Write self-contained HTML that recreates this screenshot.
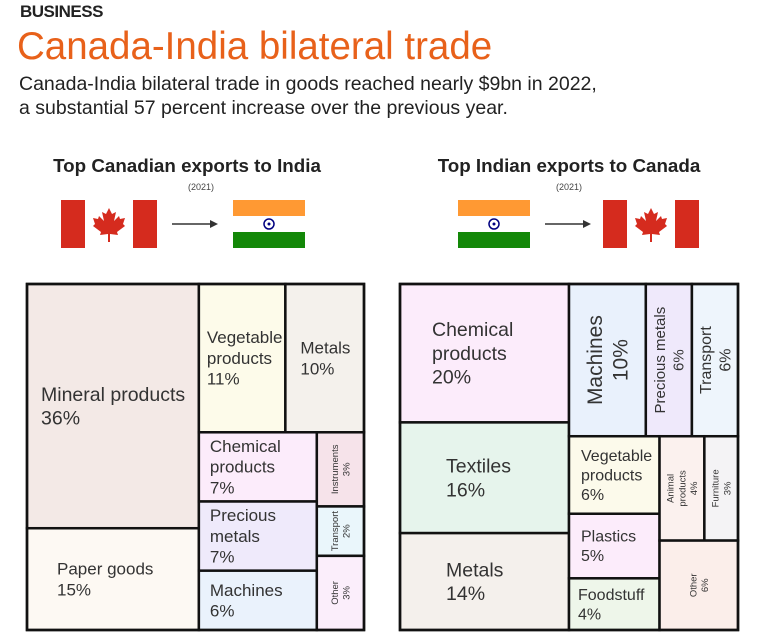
<!DOCTYPE html>
<html><head><meta charset="utf-8"><style>
body{margin:0;background:#fff;width:770px;height:634px;overflow:hidden;font-family:"Liberation Sans",sans-serif}
</style></head><body>
<svg width="770" height="634" viewBox="0 0 770 634" xmlns="http://www.w3.org/2000/svg" style="font-family:'Liberation Sans',sans-serif">
<text x="20" y="17" font-size="17" font-weight="bold" fill="#222" letter-spacing="-0.5">BUSINESS</text>
<text x="17" y="59" font-size="38.5" fill="#e8611a">Canada-India bilateral trade</text>
<text x="19" y="90" font-size="19.5" fill="#222">Canada-India bilateral trade in goods reached nearly $9bn in 2022,</text>
<text x="19" y="114" font-size="19.5" fill="#222">a substantial 57 percent increase over the previous year.</text>

<text x="187" y="172" font-size="18.8" font-weight="bold" fill="#222" text-anchor="middle">Top Canadian exports to India</text>
<text x="201" y="190" font-size="9" fill="#444" text-anchor="middle">(2021)</text>
<text x="569" y="172" font-size="18.8" font-weight="bold" fill="#222" text-anchor="middle">Top Indian exports to Canada</text>
<text x="569" y="190" font-size="9" fill="#444" text-anchor="middle">(2021)</text>

<g id="flags"></g>
<g id="tmL"></g>
<g id="tmR"></g>
</svg>
<script>
const leftNames = ["Mineral products","Paper goods","Vegetable|products","Metals","Chemical|products","Precious|metals","Machines","Instruments","Transport","Other"];
const leftValues = [36,15,11,10,7,7,6,3,2,3];
const rightNames = ["Chemical|products","Textiles","Metals","Machines","Precious metals","Transport","Vegetable|products","Plastics","Foodstuff","Animal|products","Furniture","Other"];
const rightValues = [20,16,14,10,6,6,6,5,4,4,3,6];

const leftLayout = ['h',['v',0,1],['v',['h',2,3],['h',['v',4,5,6],['v',7,8,9]]]];
const rightLayout = ['h',['v',0,1,2],['v',['h',3,4,5],['h',['v',6,7,8],['v',['h',9,10],11]]]];
const leftColors = ["#f3e9e6","#fdf9f3","#fdfbea","#f4f1ec","#fcecfb","#efeafb","#eaf2fc","#f6e3ea","#eaf6fb","#fbeefb"];
const rightColors = ["#fcecfb","#e6f4ec","#f4f0ec","#e9f1fc","#efe9fb","#eef5fc","#fcfaeb","#fcecfb","#eef6ea","#fbf1ee","#f4f3f5","#fbeeea"];
const leftStyle = [{fs:19.5,px:14},{fs:17,px:30},{fs:17,px:8},{fs:17,px:15},{fs:17,px:11},{fs:17,px:11},{fs:17,px:11},{fs:9.5,rot:1},{fs:9.5,rot:1},{fs:9.5,rot:1}];
const rightStyle = [{fs:19.5,px:32},{fs:19.5,px:46},{fs:19.5,px:46},{fs:21,rot:1},{fs:15,rot:1},{fs:16,rot:1},{fs:16,px:12},{fs:16,px:12},{fs:16,px:9},{fs:9.5,rot:1},{fs:9.5,rot:1},{fs:9.5,rot:1}];

const NS="http://www.w3.org/2000/svg";
function mk(tag,attrs,parent){const e=document.createElementNS(NS,tag);for(const k in attrs)e.setAttribute(k,attrs[k]);parent.appendChild(e);return e;}
function weight(n,vals){return typeof n==='number'?vals[n]:n.slice(1).reduce((s,c)=>s+weight(c,vals),0);}
function layout(n,vals,x,y,w,h,out){
  if(typeof n==='number'){out[n]={x,y,w,h};return;}
  const tot=weight(n,vals);let off=0;
  n.slice(1).forEach(c=>{const f=weight(c,vals)/tot;
    if(n[0]==='h'){layout(c,vals,x+off*w,y,f*w,h,out);}else{layout(c,vals,x,y+off*h,w,f*h,out);}
    off+=f;});
}
function treemap(g,names,vals,lay,colors,styles,X,Y,W,H){
  const rects=[];layout(lay,vals,X,Y,W,H,rects);
  rects.forEach((r,i)=>{
    const cell=mk('g',{},g);
    
    
    mk('rect',{x:r.x,y:r.y,width:r.w,height:r.h,fill:colors[i],stroke:'#111','stroke-width':2.5},cell);
    const st=styles[i];
    const lines=names[i].split('|').concat([vals[i]+'%']);
    const lh=st.fs*1.22;
    const t=mk('text',{'font-size':st.fs,fill:'#333'},cell);
    if(st.rot){
      const cx=r.x+r.w/2,cy=r.y+r.h/2;
      t.setAttribute('transform','translate('+cx+','+cy+') rotate(-90)');
      t.setAttribute('text-anchor','middle');
      lines.forEach((l,k)=>{const ts=mk('tspan',{x:0,y:(k-(lines.length-1)/2)*lh+st.fs*0.35},t);ts.textContent=l;});
    }else{
      const top=r.y+r.h/2-(lines.length*lh)/2;
      lines.forEach((l,k)=>{const ts=mk('tspan',{x:r.x+st.px,y:top+k*lh+st.fs*0.95},t);ts.textContent=l;});
    }
  });
  mk('rect',{x:X,y:Y,width:W,height:H,fill:'none',stroke:'#111','stroke-width':2.5},g);
}
treemap(document.getElementById('tmL'),leftNames,leftValues,leftLayout,leftColors,leftStyle,27,284,337,346);
treemap(document.getElementById('tmR'),rightNames,rightValues,rightLayout,rightColors,rightStyle,400,284,338,346);

const fg=document.getElementById('flags');
function canada(x,y,name){
  const g=mk('g',{},fg);
  mk('rect',{x:x,y:y,width:24,height:48,fill:'#d52b1e'},g);
  mk('rect',{x:x+72,y:y,width:24,height:48,fill:'#d52b1e'},g);
  const cx=x+48,cy=y+24;
  mk('path',{d:`M${cx} ${cy-16} L${cx+3} ${cy-10} L${cx+7} ${cy-12} L${cx+5} ${cy-3} L${cx+10} ${cy-8} L${cx+11} ${cy-5} L${cx+16} ${cy-6} L${cx+14} ${cy} L${cx+16} ${cy+2} L${cx+8} ${cy+8} L${cx+9} ${cy+11} L${cx+1} ${cy+10} L${cx+1} ${cy+18} L${cx-1} ${cy+18} L${cx-1} ${cy+10} L${cx-9} ${cy+11} L${cx-8} ${cy+8} L${cx-16} ${cy+2} L${cx-14} ${cy} L${cx-16} ${cy-6} L${cx-11} ${cy-5} L${cx-10} ${cy-8} L${cx-5} ${cy-3} L${cx-7} ${cy-12} L${cx-3} ${cy-10} Z`,fill:'#d52b1e'},g);
}
function india(x,y,name){
  const g=mk('g',{},fg);
  mk('rect',{x:x,y:y,width:72,height:16,fill:'#ff9933'},g);
  mk('rect',{x:x,y:y+32,width:72,height:16,fill:'#138808'},g);
  mk('circle',{cx:x+36,cy:y+24,r:5,fill:'none',stroke:'#000080','stroke-width':1.5},g);
  mk('circle',{cx:x+36,cy:y+24,r:1.5,fill:'#000080'},g);
}
function arrow(x1,x2,y,name){
  const g=mk('g',{},fg);
  mk('line',{x1:x1,y1:y,x2:x2-6,y2:y,stroke:'#333','stroke-width':1.6},g);
  mk('path',{d:`M${x2} ${y} L${x2-8} ${y-4} L${x2-8} ${y+4} Z`,fill:'#333'},g);
}
canada(61,200,'canada-flag-left');arrow(172,218,224,'left-arrow');india(233,200,'india-flag-left');
india(458,200,'india-flag-right');arrow(545,591,224,'right-arrow');canada(603,200,'canada-flag-right');
</script>
</body></html>
